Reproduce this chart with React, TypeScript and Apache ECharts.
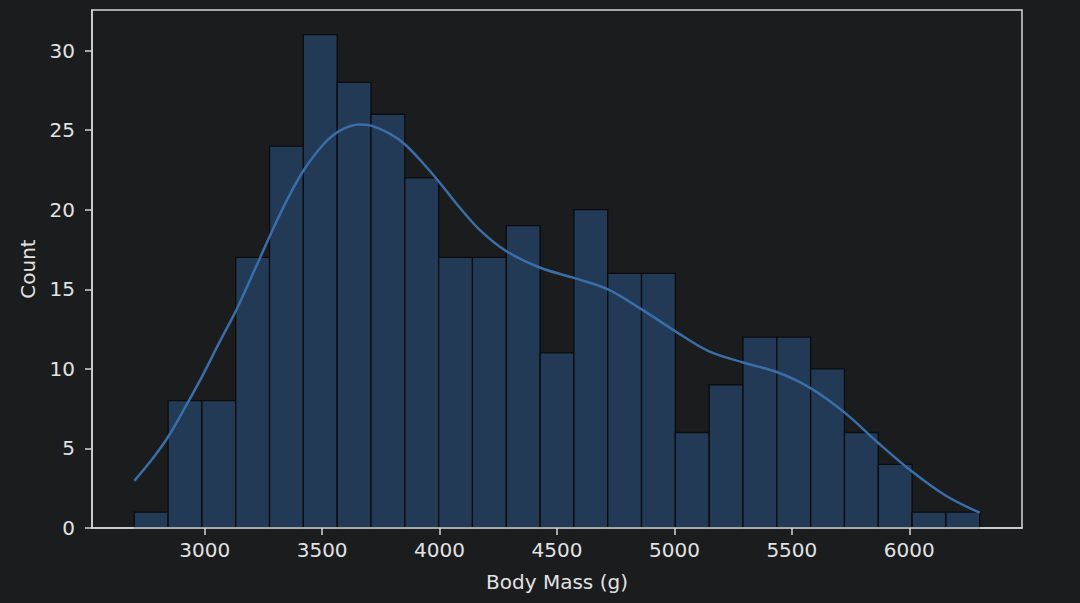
import React, { useEffect, useRef } from "react";
import * as echarts from "echarts";

const binStart = 2700;
const binWidth = 144;
const counts = [1, 8, 8, 17, 24, 31, 28, 26, 22, 17, 17, 19, 11, 20, 16, 16, 6, 9, 12, 12, 10, 6, 4, 1, 1];

const kdeX = [2700, 2780, 2845, 2923, 2994, 3060, 3136, 3221, 3285, 3350, 3420, 3505, 3576, 3661, 3704, 3789, 3853, 3925, 3995, 4073, 4172, 4284, 4426, 4575, 4717, 4859, 5001, 5143, 5292, 5441, 5576, 5725, 5867, 6009, 6158, 6300];
const kdeY = [2.96, 4.4, 5.75, 7.75, 9.67, 11.6, 13.75, 16.5, 18.6, 20.6, 22.45, 24.1, 24.97, 25.35, 25.3, 24.76, 24.1, 23.0, 21.8, 20.36, 18.72, 17.4, 16.37, 15.7, 15.0, 13.75, 12.39, 11.13, 10.4, 9.77, 8.82, 7.25, 5.36, 3.58, 2.01, 0.96];

const xTicks = [3000, 3500, 4000, 4500, 5000, 5500, 6000];
const yTicks = [0, 5, 10, 15, 20, 25, 30];

const BG = "#1b1c1e";
const FG = "#e2e2e2";
const SPINE = "#d6d6d6";
const FONT = "DejaVu Sans";

export default function App() {
  const ref = useRef<HTMLDivElement>(null);
  useEffect(() => {
    document.body.style.margin = "0";
    document.body.style.background = BG;
    const chart = echarts.init(ref.current!, null, { renderer: "svg" });
    const bars = counts.map((c, i) => [binStart + i * binWidth, binStart + (i + 1) * binWidth, c]);
    const kde = kdeX.map((x, i) => [x, kdeY[i]]);
    const axisCommon = {
      axisLine: { show: true, lineStyle: { color: SPINE, width: 1.5 } },
      axisTick: { show: true, length: 7, lineStyle: { color: SPINE, width: 1.5 } },
      splitLine: { show: false },
      nameTextStyle: { color: FG, fontSize: 20, fontFamily: FONT },
      z: 10,
    };
    chart.setOption({
      animation: false,
      backgroundColor: BG,
      grid: {
        left: 92,
        top: 10,
        width: 930,
        height: 518,
        show: true,
        borderColor: SPINE,
        borderWidth: 1.5,
        backgroundColor: "transparent",
      },
      xAxis: {
        type: "value",
        min: 2520,
        max: 6480,
        ...axisCommon,
        axisTick: { ...axisCommon.axisTick, customValues: xTicks },
        axisLabel: {
          customValues: xTicks,
          formatter: (v: number) => String(v),
          color: FG,
          fontSize: 20,
          fontFamily: FONT,
          margin: 12,
        },
        name: "Body Mass (g)",
        nameLocation: "middle",
        nameGap: 44,
      },
      yAxis: {
        type: "value",
        min: 0,
        max: 32.55,
        ...axisCommon,
        axisTick: { ...axisCommon.axisTick, customValues: yTicks },
        axisLabel: {
          customValues: yTicks,
          formatter: (v: number) => String(v),
          color: FG,
          fontSize: 20,
          fontFamily: FONT,
          margin: 17,
        },
        name: "Count",
        nameLocation: "middle",
        nameGap: 54,
      },
      series: [
        {
          type: "custom",
          data: bars,
          encode: { x: [0, 1], y: 2 },
          renderItem: (params: any, api: any) => {
            const p0 = api.coord([api.value(0), api.value(2)]);
            const p1 = api.coord([api.value(1), 0]);
            return {
              type: "rect",
              shape: { x: p0[0], y: p0[1], width: p1[0] - p0[0], height: p1[1] - p0[1] },
              style: { fill: "#223a56", stroke: "#0b0c0d", lineWidth: 1.3 },
            };
          },
          z: 2,
        },
        {
          type: "line",
          data: kde,
          smooth: 0.35,
          showSymbol: false,
          symbol: "none",
          lineStyle: { color: "#3a6ea8", width: 2.5 },
          z: 3,
        },
      ],
    });
    return () => chart.dispose();
  }, []);
  return <div ref={ref} style={{ width: 1080, height: 603, background: BG }} />;
}
